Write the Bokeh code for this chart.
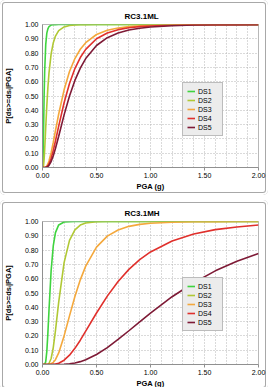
from bokeh.plotting import figure
from bokeh.layouts import column
from bokeh.models import (FixedTicker, Legend, LegendItem,
                          NumeralTickFormatter, Range1d)
from bokeh.embed import file_html
from bokeh.resources import INLINE

# ---------------- data ----------------
pga = [0, 0.005, 0.01, 0.015, 0.02, 0.03, 0.04, 0.05, 0.06, 0.08, 0.1, 0.12,
       0.15, 0.2, 0.25, 0.3, 0.35, 0.4, 0.5, 0.6, 0.7, 0.8, 0.9, 1.0, 1.2,
       1.4, 1.6, 1.8, 2.0]

# RC3.1ML
ml_ds1 = [0, 0.04, 0.26, 0.50, 0.67, 0.86, 0.94, 0.97, 0.985, 0.996, 0.998,
          0.999, 1, 1, 1, 1, 1, 1, 1, 1, 1, 1, 1, 1, 1, 1, 1, 1, 1]
ml_ds2 = [0, 0.001, 0.016, 0.058, 0.123, 0.281, 0.433, 0.56, 0.66, 0.794,
          0.873, 0.919, 0.957, 0.983, 0.993, 0.997, 0.998, 0.999, 1, 1, 1, 1,
          1, 1, 1, 1, 1, 1, 1]
ml_ds3 = [0, 0, 0, 0, 0, 0.003, 0.011, 0.025, 0.046, 0.104, 0.177, 0.257,
          0.374, 0.543, 0.671, 0.762, 0.827, 0.873, 0.930, 0.960, 0.976,
          0.985, 0.991, 0.994, 0.997, 0.999, 0.999, 1.0, 1.0]
ml_ds4 = [0, 0, 0, 0, 0, 0.001, 0.005, 0.013, 0.025, 0.065, 0.12, 0.185,
          0.289, 0.453, 0.588, 0.692, 0.769, 0.826, 0.90, 0.94, 0.964, 0.977,
          0.985, 0.990, 0.996, 0.998, 0.999, 0.999, 1.0]
ml_ds5 = [0, 0, 0, 0, 0, 0.001, 0.003, 0.007, 0.015, 0.042, 0.082, 0.133,
          0.219, 0.368, 0.5, 0.609, 0.695, 0.762, 0.853, 0.908, 0.940, 0.961,
          0.974, 0.982, 0.991, 0.996, 0.998, 0.999, 0.999]

# RC3.1MH
mh_ds1 = [0, 0, 0, 0, 0.001, 0.020, 0.092, 0.221, 0.378, 0.657, 0.832, 0.922,
          0.976, 0.9965, 0.9994, 1, 1, 1, 1, 1, 1, 1, 1, 1, 1, 1, 1, 1, 1]
mh_ds2 = [0, 0, 0, 0, 0, 0, 0, 0.002, 0.007, 0.042, 0.12, 0.236, 0.436,
          0.712, 0.868, 0.942, 0.975, 0.989, 0.998, 0.9995, 1, 1, 1, 1, 1, 1,
          1, 1, 1]
mh_ds3 = [0, 0, 0, 0, 0, 0, 0, 0, 0.001, 0.005, 0.015, 0.034, 0.081, 0.200,
          0.340, 0.475, 0.592, 0.688, 0.821, 0.898, 0.941, 0.966, 0.980,
          0.988, 0.995, 0.998, 0.999, 1.0, 1.0]
mh_ds4 = [0, 0, 0, 0, 0, 0, 0, 0, 0, 0, 0.001, 0.003, 0.009, 0.030, 0.065,
          0.113, 0.170, 0.233, 0.360, 0.478, 0.580, 0.665, 0.733, 0.787,
          0.864, 0.913, 0.943, 0.962, 0.975]
mh_ds5 = [0, 0, 0, 0, 0, 0, 0, 0, 0, 0, 0, 0, 0, 0.002, 0.005, 0.011, 0.020,
          0.033, 0.070, 0.118, 0.175, 0.236, 0.298, 0.359, 0.474, 0.572,
          0.655, 0.722, 0.776]

series_names = ["DS1", "DS2", "DS3", "DS4", "DS5"]
series_colors = ["#3fd43f", "#b0c834", "#f4a83c", "#e0302c", "#7e1a36"]
titles = ["RC3.1ML", "RC3.1MH"]
x_ticks = [0.0, 0.5, 1.0, 1.5, 2.0]
x_grid = [0.0, 0.1, 0.2, 0.3, 0.4, 0.5, 0.6, 0.7, 0.8, 0.9, 1.0, 1.1, 1.2,
          1.3, 1.4, 1.5, 1.6, 1.7, 1.8, 1.9, 2.0]
y_ticks = [0.0, 0.1, 0.2, 0.3, 0.4, 0.5, 0.6, 0.7, 0.8, 0.9, 1.0]
x_label = "PGA (g)"
y_label = "P[ds>=dsᵢ|PGA]"

FONT = "Liberation Sans"
FRAME_CSS = {
    "box-shadow": "inset 0 0 0 2px #ffffff, inset 0 0 0 3px #a8a8a8",
    "border-radius": "5px",
    "background-color": "#ffffff",
}


def make_chart(title, series, height, top_pad, bottom_pad, legend_y):
    p = figure(width=268, height=height, output_backend="svg",
               toolbar_location=None, x_range=Range1d(0, 2),
               y_range=Range1d(0, 1), min_border_left=36,
               min_border_right=10, min_border_top=top_pad,
               min_border_bottom=bottom_pad, styles=FRAME_CSS)
    p.background_fill_color = "white"
    p.border_fill_alpha = 0
    p.outline_line_color = "#b8b8b8"

    p.title.text = title
    p.title.align = "left"
    p.title.offset = 82
    p.title.vertical_align = "top"
    p.title.text_font = FONT
    p.title.text_font_size = "8px"
    p.title.text_font_style = "bold"
    p.title.text_color = "#000000"
    p.title.standoff = 4

    for ax in (p.xaxis[0], p.yaxis[0]):
        ax.formatter = NumeralTickFormatter(format="0.00")
        ax.major_label_text_font = FONT
        ax.major_label_text_font_size = "7px"
        ax.major_label_text_color = "#000000"
        ax.axis_label_text_font = FONT
        ax.axis_label_text_font_size = "7.5px"
        ax.axis_label_text_font_style = "bold"
        ax.axis_label_text_color = "#000000"
        ax.axis_line_color = "#909090"
        ax.major_tick_line_color = "#909090"
        ax.major_tick_in = 0
        ax.minor_tick_line_color = None

    p.xaxis.ticker = FixedTicker(ticks=x_ticks)
    p.yaxis.ticker = FixedTicker(ticks=y_ticks)
    p.xaxis.axis_label = x_label
    p.yaxis.axis_label = y_label
    p.xaxis.major_tick_out = 3
    p.xaxis.major_label_standoff = 2
    p.xaxis.axis_label_standoff = 1
    p.yaxis.major_tick_out = 0
    p.yaxis.major_label_standoff = 4
    p.yaxis.axis_label_standoff = 9

    p.xgrid.ticker = FixedTicker(ticks=x_grid)
    p.ygrid.ticker = FixedTicker(ticks=y_ticks)
    for g in (p.xgrid[0], p.ygrid[0]):
        g.grid_line_color = "#b4b4b4"
        g.grid_line_dash = "1 2"
        g.grid_line_width = 1

    items = []
    for name, color, ys in zip(series_names, series_colors, series):
        r = p.line(pga, ys, line_color=color, line_width=1.6)
        items.append(LegendItem(label=name, renderers=[r]))

    legend = Legend(items=items, location=(140, legend_y))
    legend.label_text_font = FONT
    legend.label_text_font_size = "7px"
    legend.label_text_color = "#000000"
    legend.glyph_width = 8
    legend.glyph_height = 8
    legend.label_height = 8
    legend.label_standoff = 3
    legend.spacing = 1
    legend.padding = 4
    legend.margin = 0
    legend.border_line_color = "#8c8c8c"
    legend.background_fill_color = "#ececec"
    legend.background_fill_alpha = 1.0
    p.add_layout(legend)
    return p


top = make_chart(titles[0], [ml_ds1, ml_ds2, ml_ds3, ml_ds4, ml_ds5],
                 195, 24, 28, 31)
bottom = make_chart(titles[1], [mh_ds1, mh_ds2, mh_ds3, mh_ds4, mh_ds5],
                    190, 21, 25, 33)

layout = column(top, bottom, spacing=5, width=268, height=387,
                sizing_mode="fixed", styles={"overflow": "hidden"})
open("out.html", "w").write(file_html(layout, INLINE))
